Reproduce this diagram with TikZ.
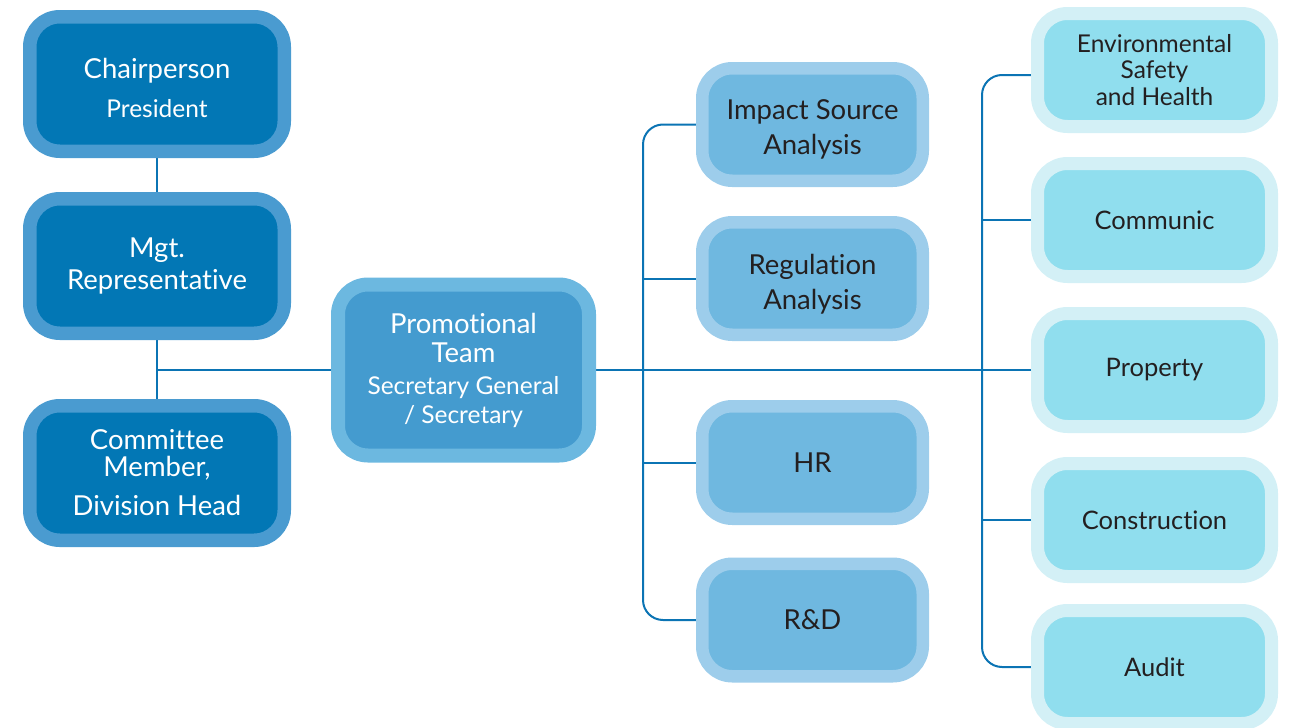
\documentclass[tikz,border=0pt]{standalone}
\usepackage{fontspec}
\setmainfont{Lato}[Ligatures=NoCommon]
\usetikzlibrary{backgrounds,calc}
\definecolor{lineblue}{HTML}{0B74B4}
\definecolor{dkouter}{HTML}{4A9BD0}
\definecolor{dkinner}{HTML}{0277B5}
\definecolor{prouter}{HTML}{6CB8E0}
\definecolor{prinner}{HTML}{449BCF}
\definecolor{mdouter}{HTML}{9DCDEB}
\definecolor{mdinner}{HTML}{6FB8E0}
\definecolor{rtouter}{HTML}{D3F0F6}
\definecolor{rtinner}{HTML}{90DEEE}
\definecolor{txtdark}{HTML}{231F20}
\newcommand{\subtxt}{\fontsize{24.5}{29}\selectfont}
\newcommand{\txtdown}[2]{\raisebox{0pt}[\dimexpr\height+#1\relax]{\begin{tabular}{@{}c@{}}#2\end{tabular}}}
\tikzset{
  box/.style={rounded corners=30pt, align=center, inner sep=0pt},
  leftbox/.style={box, draw=dkouter, fill=dkinner, line width=13.5pt,
    minimum width=254.5pt, minimum height=134.5pt, text=white,
    font=\fontsize{27.5}{30}\selectfont},
  promobox/.style={box, draw=prouter, fill=prinner, line width=14pt,
    minimum width=251pt, minimum height=171pt, text=white,
    font=\fontsize{27.5}{29}\selectfont},
  midbox/.style={box, draw=mdouter, fill=mdinner, line width=12.5pt,
    minimum width=220.5pt, minimum height=112.5pt, text=txtdark,
    font=\fontsize{27.5}{35}\selectfont},
  rightbox/.style={box, draw=rtouter, fill=rtinner, line width=13pt,
    minimum width=234pt, minimum height=113pt, text=txtdark,
    font=\fontsize{24.5}{26.5}\selectfont},
  rightone/.style={rightbox, font=\fontsize{25.5}{28}\selectfont},
  conn/.style={draw=lineblue, line width=2pt}
}
\begin{document}
\begin{tikzpicture}[x=1pt,y=-1pt]
\useasboundingbox (0,0) rectangle (1294,728);
% left column
\node[leftbox] (chair) at (157,84) {\txtdown{16pt}{Chairperson\\[9pt]{\subtxt President}}};
\node[leftbox] (mgt) at (157,266) {Mgt.\\[2pt]Representative};
\node[leftbox, font=\fontsize{27.5}{27}\selectfont] (comm) at (157,473) {Committee\\Member,\\[12pt]Division Head};
% promotional team
\node[promobox] (promo) at (463.5,370) {Promotional\\Team\\[3pt]{\subtxt Secretary General}\\{\subtxt / Secretary}};
% middle column
\node[midbox] (imp) at (812.5,124.5) {\txtdown{10pt}{Impact Source\\Analysis}};
\node[midbox] (reg) at (812.5,278.5) {\txtdown{12pt}{Regulation\\Analysis}};
\node[midbox] (hr) at (812.5,462.5) {HR};
\node[midbox] (rd) at (812.5,620) {R\&D};
% right column
\node[rightbox] (env) at (1154.5,70) {Environmental\\Safety\\and Health};
\node[rightone] (com) at (1154.5,220) {Communic};
\node[rightone] (prop) at (1154.5,370) {Property};
\node[rightone] (cons) at (1154.5,520) {Construction};
\node[rightone] (aud) at (1154.5,667) {Audit};
% junctions
\coordinate (j1) at (157,370);
\coordinate (bA) at (643,370);
\coordinate (bB) at (982,370);
\begin{pgfonlayer}{background}
  \draw[conn] (chair) -- (mgt);
  \draw[conn] (mgt) -- (comm);
  \draw[conn] (j1) -- (promo.west);
  \draw[conn] (promo.east) -- (prop.west);
  \draw[conn, rounded corners=20pt] (imp.west) -| (bA) |- (rd.west);
  \draw[conn] (reg.west) -- (reg.west -| bA);
  \draw[conn] (hr.west) -- (hr.west -| bA);
  \draw[conn, rounded corners=20pt] ($(env.west)+(0,5)$) -| (bB) |- (aud.west);
  \draw[conn] (com.west) -- (com.west -| bB);
  \draw[conn] (cons.west) -- (cons.west -| bB);
\end{pgfonlayer}
\end{tikzpicture}
\end{document}
